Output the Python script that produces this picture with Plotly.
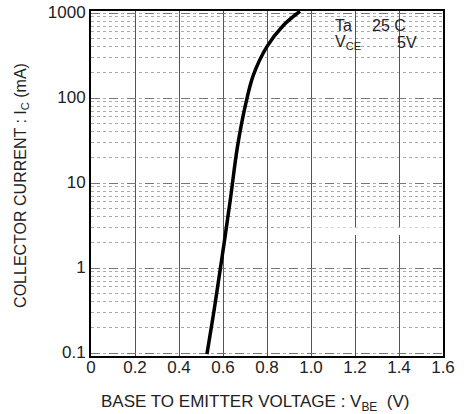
import plotly.graph_objects as go

# Data
vbe = [0.527, 0.557, 0.587, 0.605, 0.633, 0.666, 0.704, 0.738, 0.799, 0.875, 0.95]
ic = [0.097, 0.29, 0.95, 1.95, 6.3, 27, 87, 186, 400, 720, 1050]

x_ticks = [0, 0.2, 0.4, 0.6, 0.8, 1.0, 1.2, 1.4, 1.6]
x_tick_text = ["0", "0.2", "0.4", "0.6", "0.8", "1.0", "1.2", "1.4", "1.6"]
y_ticks = [0.1, 1, 10, 100, 1000]
y_tick_text = ["0.1", "1", "10", "100", "1000"]

FONT = "Liberation Sans, Arial, sans-serif"
Y_TOP = 3.024

fig = go.Figure()
fig.add_trace(go.Scatter(
    x=vbe, y=ic, mode="lines", line=dict(color="black", width=3.5, shape="spline"),
    showlegend=False, cliponaxis=True,
))

fig.update_layout(
    width=470, height=414,
    margin=dict(l=91, r=27, t=11, b=58, autoexpand=False),
    paper_bgcolor="white", plot_bgcolor="white",
    font=dict(family=FONT, color="black", size=16),
    xaxis=dict(
        range=[0, 1.6], tickvals=x_ticks, ticktext=x_tick_text,
        showgrid=True, gridcolor="#555", gridwidth=1,
        showline=True, linecolor="black", linewidth=2, mirror=True,
        ticks="", zeroline=False, tickfont=dict(size=17, color="#222"),
        automargin=False, ticklabelstandoff=-5,
    ),
    yaxis=dict(
        type="log", range=[-1.035, Y_TOP], tickvals=y_ticks, ticktext=y_tick_text,
        showgrid=True, gridcolor="#777", gridwidth=1, griddash="dash",
        minor=dict(dtick="D1", showgrid=True, gridcolor="#aaa", griddash="dot", gridwidth=1),
        showline=True, linecolor="black", linewidth=2, mirror=True,
        ticks="", zeroline=False, tickfont=dict(size=17, color="#222"),
        ticklabeloverflow="allow", automargin=False, ticklabelshift=-1,
    ),
)

# White box of the condition label (covers grid)
fig.add_shape(type="rect", xref="x", yref="y", x0=1.006, x1=1.594, y0=2.45, y1=Y_TOP - 0.02,
              fillcolor="white", line=dict(width=0), layer="above")

ann = dict(showarrow=False, font=dict(family=FONT, size=16, color="#222"))
fig.add_annotation(x=1.10, y=2.85, xref="x", yref="y", text="Ta", xanchor="left", **ann)
fig.add_annotation(x=1.268, y=2.85, xref="x", yref="y", text="25 C", xanchor="left", **ann)
fig.add_annotation(x=1.10, y=2.65, xref="x", yref="y", text="V<sub>CE</sub>", xanchor="left", **ann)
fig.add_annotation(x=1.382, y=2.65, xref="x", yref="y", text="5V", xanchor="left", **ann)

# Axis titles
fig.add_annotation(x=0.466, y=0, xref="paper", yref="paper", yshift=-47,
                   text="BASE TO EMITTER VOLTAGE : V<sub>BE</sub>  (V)", yanchor="middle",
                   showarrow=False, font=dict(family=FONT, size=17, color="#222"))
fig.add_annotation(x=0, y=0.493, xref="paper", yref="paper", xshift=-69,
                   text="COLLECTOR CURRENT : I<sub>C</sub> (mA)", textangle=-90,
                   xanchor="center", yanchor="middle",
                   showarrow=False, font=dict(family=FONT, size=16, color="#222"))

fig.write_html("out.html", config={"displayModeBar": False},
               post_script="document.body.style.margin='0';")
